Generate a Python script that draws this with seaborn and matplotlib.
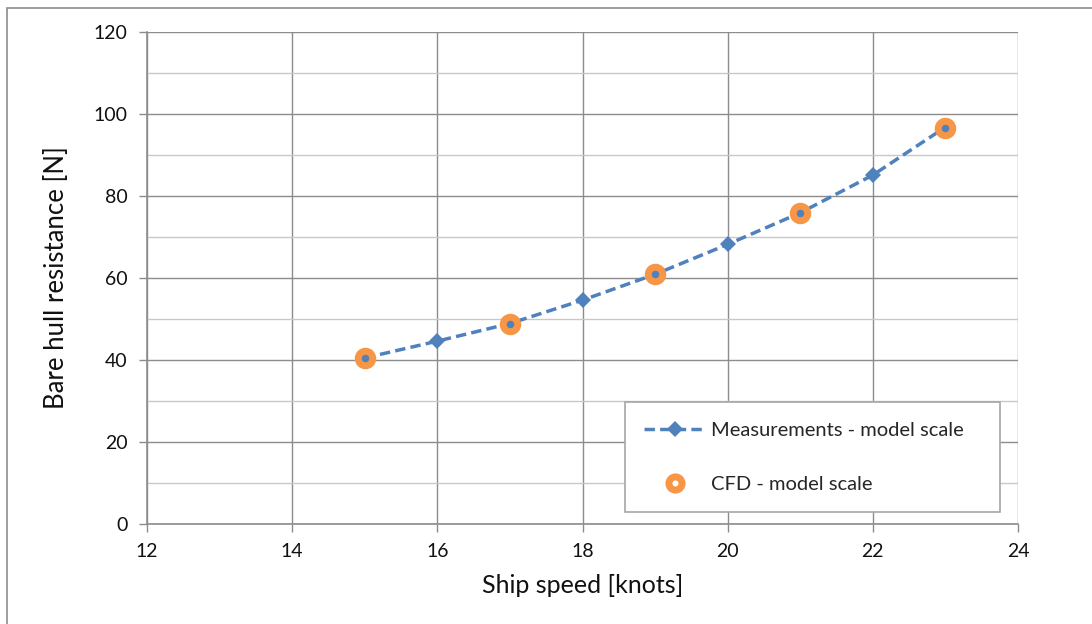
import numpy as np
import pandas as pd
import seaborn as sns
import matplotlib.pyplot as plt
from matplotlib.lines import Line2D
from matplotlib.patches import Rectangle

# data
speed_meas = [15, 16, 17, 18, 19, 20, 21, 22, 23]
res_meas = [40.5, 44.6, 48.9, 54.6, 60.9, 68.2, 75.9, 85.1, 96.8]
speed_cfd = [15, 17, 19, 21, 23]
res_cfd = [40.4, 48.9, 60.9, 75.9, 96.7]
x_ticks = [12, 14, 16, 18, 20, 22, 24]
y_ticks = [0, 20, 40, 60, 80, 100, 120]

blue = '#4f81bd'
orange = '#f79646'

sns.set_theme(style='white')
plt.rcParams['font.family'] = ['Lato', 'DejaVu Sans']

fig = plt.figure(figsize=(10.92, 6.24), dpi=100)
ax = fig.add_axes([147 / 1092, 100 / 624, 871 / 1092, 492 / 624])

meas = pd.DataFrame({'speed': speed_meas, 'res': res_meas})
cfd = pd.DataFrame({'speed': speed_cfd, 'res': res_cfd})

sns.lineplot(data=meas, x='speed', y='res', ax=ax, color=blue, lw=2.5,
             marker='D', markersize=8.5, markeredgewidth=0, zorder=3)
ax.lines[0].set_dashes([3.0, 1.5])
sns.scatterplot(data=cfd, x='speed', y='res', ax=ax, s=110, color=blue,
                edgecolor=orange, linewidth=5.0, zorder=4)

# axes and grid
ax.set_xlim(12, 24)
ax.set_ylim(0, 120)
ax.set_xticks(x_ticks)
ax.set_yticks(y_ticks)
ax.set_yticks(np.arange(10, 120, 20), minor=True)
ax.grid(True, which='major', color='#8c8c8c', lw=1.0)
ax.grid(True, which='minor', axis='y', color='#c8c8c8', lw=1.0)
ax.set_axisbelow(True)
for side in ['top', 'right']:
    ax.spines[side].set_visible(False)
for side in ['left', 'bottom']:
    ax.spines[side].set_color('#8c8c8c')
    ax.spines[side].set_linewidth(1.2)
ax.tick_params(axis='both', which='major', length=6, width=1, color='#8c8c8c',
               labelsize=14, labelcolor='#111111', direction='out',
               bottom=True, left=True, pad=8)
ax.tick_params(axis='y', which='minor', length=0)

ax.set_xlabel('Ship speed [knots]', fontsize=18, color='#111111', labelpad=10)
ax.set_ylabel('Bare hull resistance [N]', fontsize=18.5, color='#111111', labelpad=18)

# legend
handles = [
    Line2D([], [], color=blue, lw=2.5, dashes=[3.0, 1.5], marker='D',
           markersize=8.5, markeredgewidth=0),
    Line2D([], [], ls='none', marker='o', markersize=9.5, markerfacecolor='white',
           markeredgecolor=orange, markeredgewidth=5.0),
]
leg = ax.legend(handles, ['Measurements - model scale', 'CFD - model scale'],
                loc='lower left', bbox_to_anchor=(0.549, 0.024, 0.43, 0.232),
                mode='expand', fontsize=14.5, labelspacing=1.85, handlelength=3.0,
                handletextpad=0.3, borderpad=0.95, borderaxespad=0,
                fancybox=False, framealpha=1, edgecolor='#a6a6a6')
leg.get_frame().set_linewidth(1.2)

# outer chart border
fig.patches.append(Rectangle((7 / 1092, -0.1), 1.2, (616 / 624) + 0.1,
                             transform=fig.transFigure, fill=False,
                             edgecolor='#8c8c8c', lw=1.2))

fig.savefig('out.png', dpi=100)
